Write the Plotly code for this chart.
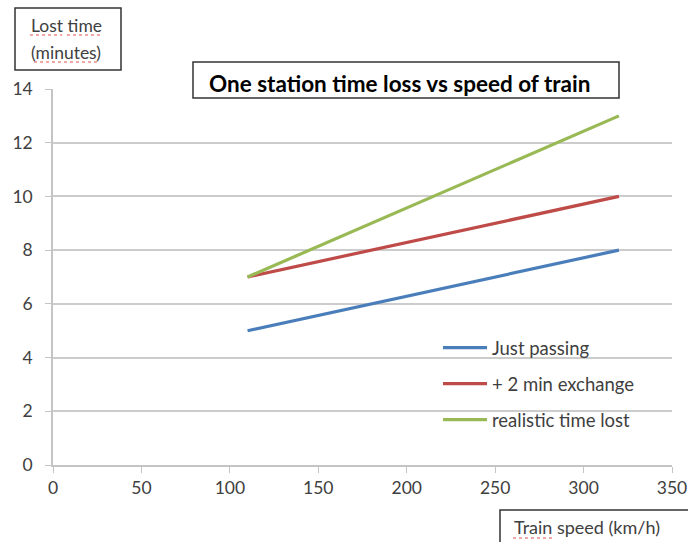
import plotly.graph_objects as go

speeds = [110, 320]
just_passing = [5, 8]
exchange_2min = [7, 10]
realistic = [7, 13]
series_names = ["Just passing", "+ 2 min exchange", "realistic time lost"]
colors = ["#4a7ebb", "#be4b48", "#98b954"]

FONT = "Lato"
TXT = "#404040"

fig = go.Figure()
for i, (name, ys, c) in enumerate(zip(series_names, [just_passing, exchange_2min, realistic], colors)):
    fig.add_trace(go.Scatter(x=speeds, y=ys, mode="lines", name=name,
                             line=dict(color=c, width=3.2), legendgroup=f"g{i}"))

L, R, T, B = 53, 16, 89, 77
W, H = 688, 542
pw, ph = W - L - R, H - T - B

def px(x):
    return (x - L) / pw

def py(y):
    return (H - B - y) / ph

shapes = []
annotations = []

# y title box
shapes.append(dict(type="rect", xref="paper", yref="paper", x0=px(15), x1=px(121), y0=py(70), y1=py(8),
                   line=dict(color="#333333", width=1.5), fillcolor="white", layer="above"))
annotations.append(dict(xref="paper", yref="paper", x=px(29), y=py(26), xanchor="left", yanchor="middle",
                        text="Lost time", showarrow=False, align="left",
                        font=dict(family=FONT, size=17.5, color=TXT)))
annotations.append(dict(xref="paper", yref="paper", x=px(29), y=py(52), xanchor="left", yanchor="middle",
                        text="(minutes)", showarrow=False, align="left",
                        font=dict(family=FONT, size=17.5, color=TXT)))
# title box
shapes.append(dict(type="rect", xref="paper", yref="paper", x0=px(193), x1=px(619), y0=py(98), y1=py(62),
                   line=dict(color="#333333", width=1.5), fillcolor="white", layer="above"))
annotations.append(dict(xref="paper", yref="paper", x=px(400), y=py(83), xanchor="center", yanchor="middle",
                        text="<b>One station time loss vs speed of train</b>", showarrow=False,
                        font=dict(family=FONT, size=22.5, color="#000000")))
# x title box
shapes.append(dict(type="rect", xref="paper", yref="paper", x0=px(500), x1=px(700), y0=py(550), y1=py(510),
                   line=dict(color="#333333", width=1.5), fillcolor="white", layer="above"))
annotations.append(dict(xref="paper", yref="paper", x=px(512), y=py(527), xanchor="left", yanchor="middle",
                        text="Train speed (km/h)", showarrow=False,
                        font=dict(family=FONT, size=18, color=TXT)))

# spellcheck squiggles
for x0, x1, yy in [(30, 62, 35), (67, 101, 35), (34, 100, 62), (513, 553, 538)]:
    shapes.append(dict(type="line", xref="paper", yref="paper", x0=px(x0), x1=px(x1), y0=py(yy), y1=py(yy),
                       line=dict(color="#e05050", width=1, dash="dot"), layer="above"))

fig.update_layout(
    width=W, height=H,
    margin=dict(l=L, r=R, t=T, b=B, autoexpand=False),
    paper_bgcolor="white", plot_bgcolor="white",
    font=dict(family=FONT, size=18, color=TXT),
    showlegend=True,
    legend=dict(x=px(438), y=py(329), xanchor="left", yanchor="top",
                bgcolor="rgba(0,0,0,0)", font=dict(family=FONT, size=18.5, color=TXT),
                tracegroupgap=9, itemwidth=44),
    xaxis=dict(range=[0, 350], dtick=50, showgrid=False, showline=True, linecolor="#c4c4c4", linewidth=1.5,
               ticks="outside", ticklen=6, tickcolor="#c4c4c4", zeroline=False, automargin=False,
               tickfont=dict(family=FONT, size=17.5, color=TXT)),
    yaxis=dict(range=[0, 14], dtick=2, showgrid=True, gridcolor="#cccccc", gridwidth=1.5, showline=True,
               linecolor="#c4c4c4", linewidth=1.5, ticks="outside", ticklen=6, tickcolor="#c4c4c4",
               zeroline=False, automargin=False, ticklabelstandoff=9,
               tickfont=dict(family=FONT, size=17.5, color=TXT)),
    shapes=shapes, annotations=annotations,
)

fig.write_html("out.html", config={"displayModeBar": False},
               post_script="document.body.style.margin='0';")
